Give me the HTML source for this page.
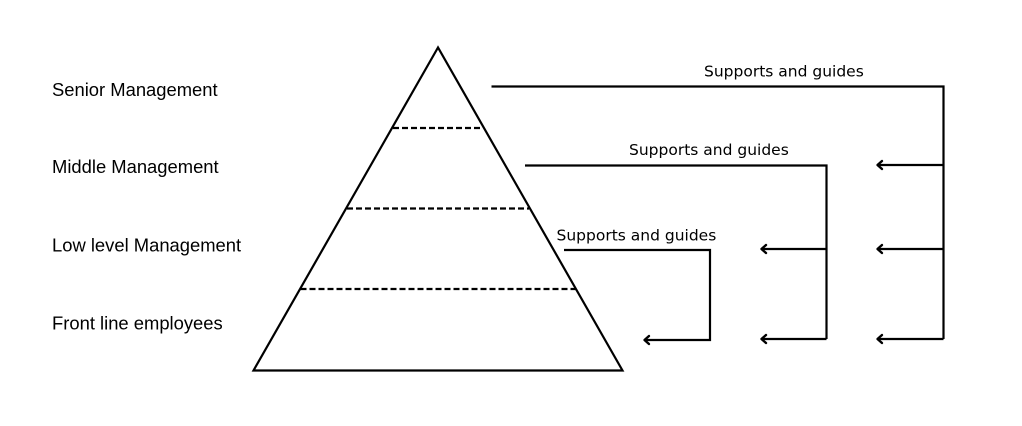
<!DOCTYPE html>
<html>
<head>
<meta charset="utf-8">
<style>
  html, body { margin:0; padding:0; background:#fff; }
  body { width:1022px; height:426px; overflow:hidden; }
  svg { display:block; }
  .lbl { font-family:"Liberation Sans", Arial, sans-serif; font-size:18.4px; fill:#000; }
  .sg { font-family:"DejaVu Sans", "Liberation Sans", sans-serif; font-size:15.5px; fill:#000; }
</style>
</head>
<body>
<svg width="1022" height="426" viewBox="0 0 1022 426" xmlns="http://www.w3.org/2000/svg">
  <rect width="1022" height="426" fill="#fff"/>
  <!-- Left labels -->
  <text class="lbl" x="52" y="96">Senior Management</text>
  <text class="lbl" x="52" y="173">Middle Management</text>
  <text class="lbl" x="52" y="251.5">Low level Management</text>
  <text class="lbl" x="52" y="329.5">Front line employees</text>

  <!-- Pyramid -->
  <polygon points="438,47.5 253.5,370.5 622.5,370.5" fill="none" stroke="#000" stroke-width="2.2" stroke-linejoin="miter"/>
  <g stroke="#000" stroke-width="2.2" stroke-dasharray="6,3" fill="none">
    <line x1="393" y1="128" x2="482" y2="128"/>
    <line x1="347" y1="208.5" x2="529" y2="208.5"/>
    <line x1="300.5" y1="289" x2="575.5" y2="289"/>
  </g>

  <!-- Connectors -->
  <g stroke="#000" stroke-width="2.2" fill="none" stroke-linejoin="miter">
    <!-- Top (Senior) -->
    <polyline points="491.5,86.5 943.5,86.5 943.5,339"/>
    <line x1="943.5" y1="165" x2="878" y2="165"/>
    <line x1="943.5" y1="249" x2="878" y2="249"/>
    <line x1="943.5" y1="339" x2="878" y2="339"/>
    <!-- Middle -->
    <polyline points="525,165.5 826.5,165.5 826.5,339"/>
    <line x1="826.5" y1="249" x2="762" y2="249"/>
    <line x1="826.5" y1="339" x2="762" y2="339"/>
    <!-- Low -->
    <polyline points="564,250 710,250 710,340 645,340"/>
  </g>
  <!-- Arrowheads -->
  <g stroke="#000" stroke-width="2.4" fill="none" stroke-linecap="round" stroke-linejoin="round">
    <polyline points="882,161 877.5,165 882,169"/>
    <polyline points="882,245 877.5,249 882,253"/>
    <polyline points="882,335 877.5,339 882,343"/>
    <polyline points="766,245 761.5,249 766,253"/>
    <polyline points="766,335 761.5,339 766,343"/>
    <polyline points="649,336 644.5,340 649,344"/>
  </g>

  <!-- Connector labels -->
  <text class="sg" x="704" y="76.5">Supports and guides</text>
  <text class="sg" x="629" y="155">Supports and guides</text>
  <text class="sg" x="556.5" y="240.5">Supports and guides</text>
</svg>
</body>
</html>
